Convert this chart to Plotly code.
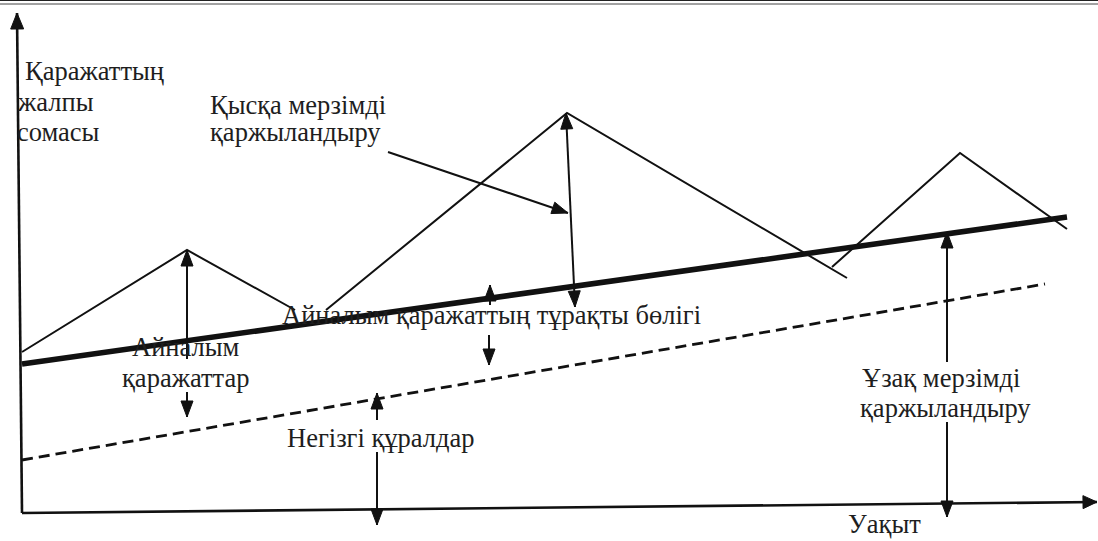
import math
import plotly.graph_objects as go

W, H = 1098, 541

# Схема салынған координаттар (x оңға, y төмен қарай, суреттің өз масштабында)
axis_y_x = [22, 17]
axis_y_y = [513, 13]
axis_x_x = [22, 1097]
axis_x_y = [513, 502]

# Айналым қаражаттың тұрақты бөлігі (жуан сызық)
total_x = [22, 1067]
total_y = [364, 217]

# Негізгі құралдар шекарасы (пунктир)
fixed_x = [22, 1045]
fixed_y = [460, 284]

# Маусымдық ауытқулар (жіңішке сынық сызықтар)
peak1_x = [22, 187, 295]
peak1_y = [352, 250, 310]
peak2_x = [326, 567, 847]
peak2_y = [310, 113, 278]
peak3_x = [832, 960, 1067]
peak3_y = [267, 153, 229]

# Бағыттауыш нұсқамалар: (x0, y0, x1, y1, ұштары)
arrows = [
    (187, 359, 187, 250, "end"),
    (187, 392, 187, 417, "end"),
    (490, 305, 490, 285, "end"),
    (489, 335, 489, 365, "end"),
    (377, 420, 377, 393, "end"),
    (377, 452, 377, 525, "end"),
    (947, 362, 947, 232, "end"),
    (947, 422, 947, 517, "end"),
    (566, 113, 575, 307, "both"),
    (388, 152, 568, 213, "end"),
]

# Жазулар
label_text = [
    "Қаражаттың", "жалпы", "сомасы",
    "Қысқа мерзімді", "қаржыландыру",
    "Айналым", "қаражаттар",
    "Айналым қаражаттың тұрақты бөлігі",
    "Негізгі құралдар",
    "Ұзақ мерзімді", "қаржыландыру",
    "Уақыт",
]
label_x = [24, 16, 16, 209, 209, 186, 186, 281, 286, 861, 859, 847]
label_y = [71, 102, 132, 105, 132, 347, 378, 315, 438, 378, 408, 524]
label_anchor = ["left", "left", "left", "left", "left", "center", "center",
                "left", "left", "left", "left", "left"]

INK = "#111111"
FONT = "Liberation Serif"


def head(tip_x, tip_y, from_x, from_y, length=16, width=12):
    dx, dy = from_x - tip_x, from_y - tip_y
    d = math.hypot(dx, dy)
    ux, uy = dx / d, dy / d
    bx, by = tip_x + ux * length, tip_y + uy * length
    nx, ny = -uy * width / 2, ux * width / 2
    return [tip_x, bx + nx, bx - nx, tip_x], [tip_y, by + ny, by - ny, tip_y]


fig = go.Figure()


def line(xs, ys, w, dash="solid"):
    fig.add_trace(go.Scatter(x=xs, y=ys, mode="lines",
                             line=dict(color=INK, width=w, dash=dash),
                             hoverinfo="skip", showlegend=False))


def tri(xs, ys):
    fig.add_trace(go.Scatter(x=xs, y=ys, mode="lines", fill="toself",
                             fillcolor=INK, line=dict(color=INK, width=1),
                             hoverinfo="skip", showlegend=False))


# оси
line(axis_y_x, axis_y_y, 2.6)
tri(*head(axis_y_x[1], axis_y_y[1], axis_y_x[0], axis_y_y[0], 16, 13))
line(axis_x_x, axis_x_y, 2.6)
tri(*head(axis_x_x[1], axis_x_y[1], axis_x_x[0], axis_x_y[0], 14, 13))

line(fixed_x, fixed_y, 2.8, "11px,6px")
for px, py in [(peak1_x, peak1_y), (peak2_x, peak2_y), (peak3_x, peak3_y)]:
    line(px, py, 2)
line(total_x, total_y, 5.5)

for x0, y0, x1, y1, ends in arrows:
    line([x0, x1], [y0, y1], 2)
    tri(*head(x1, y1, x0, y0))
    if ends == "both":
        tri(*head(x0, y0, x1, y1))

for t, x, y, a in zip(label_text, label_x, label_y, label_anchor):
    fig.add_annotation(x=x, y=y, xref="x", yref="y", text=t, showarrow=False,
                       xanchor=a, yanchor="middle", borderpad=0,
                       font=dict(family=FONT, size=26.5, color="#1e1e1e"))

# рамканың жоғарғы қос сызығы
fig.add_shape(type="line", xref="paper", yref="paper", x0=0, x1=1, y0=1, y1=1,
              line=dict(color="#222", width=2))
fig.add_shape(type="line", xref="x", yref="y", x0=0, x1=W, y0=4, y1=4,
              line=dict(color="#444", width=1))

fig.update_xaxes(range=[0, W], visible=False, fixedrange=True)
fig.update_yaxes(range=[H, 0], visible=False, fixedrange=True)
fig.update_layout(width=W, height=H, margin=dict(l=0, r=0, t=0, b=0),
                  plot_bgcolor="white", paper_bgcolor="white",
                  font=dict(family=FONT, size=26.5))

fig.write_html("out.html", config={"displayModeBar": False},
               post_script="document.body.style.margin='0';")
